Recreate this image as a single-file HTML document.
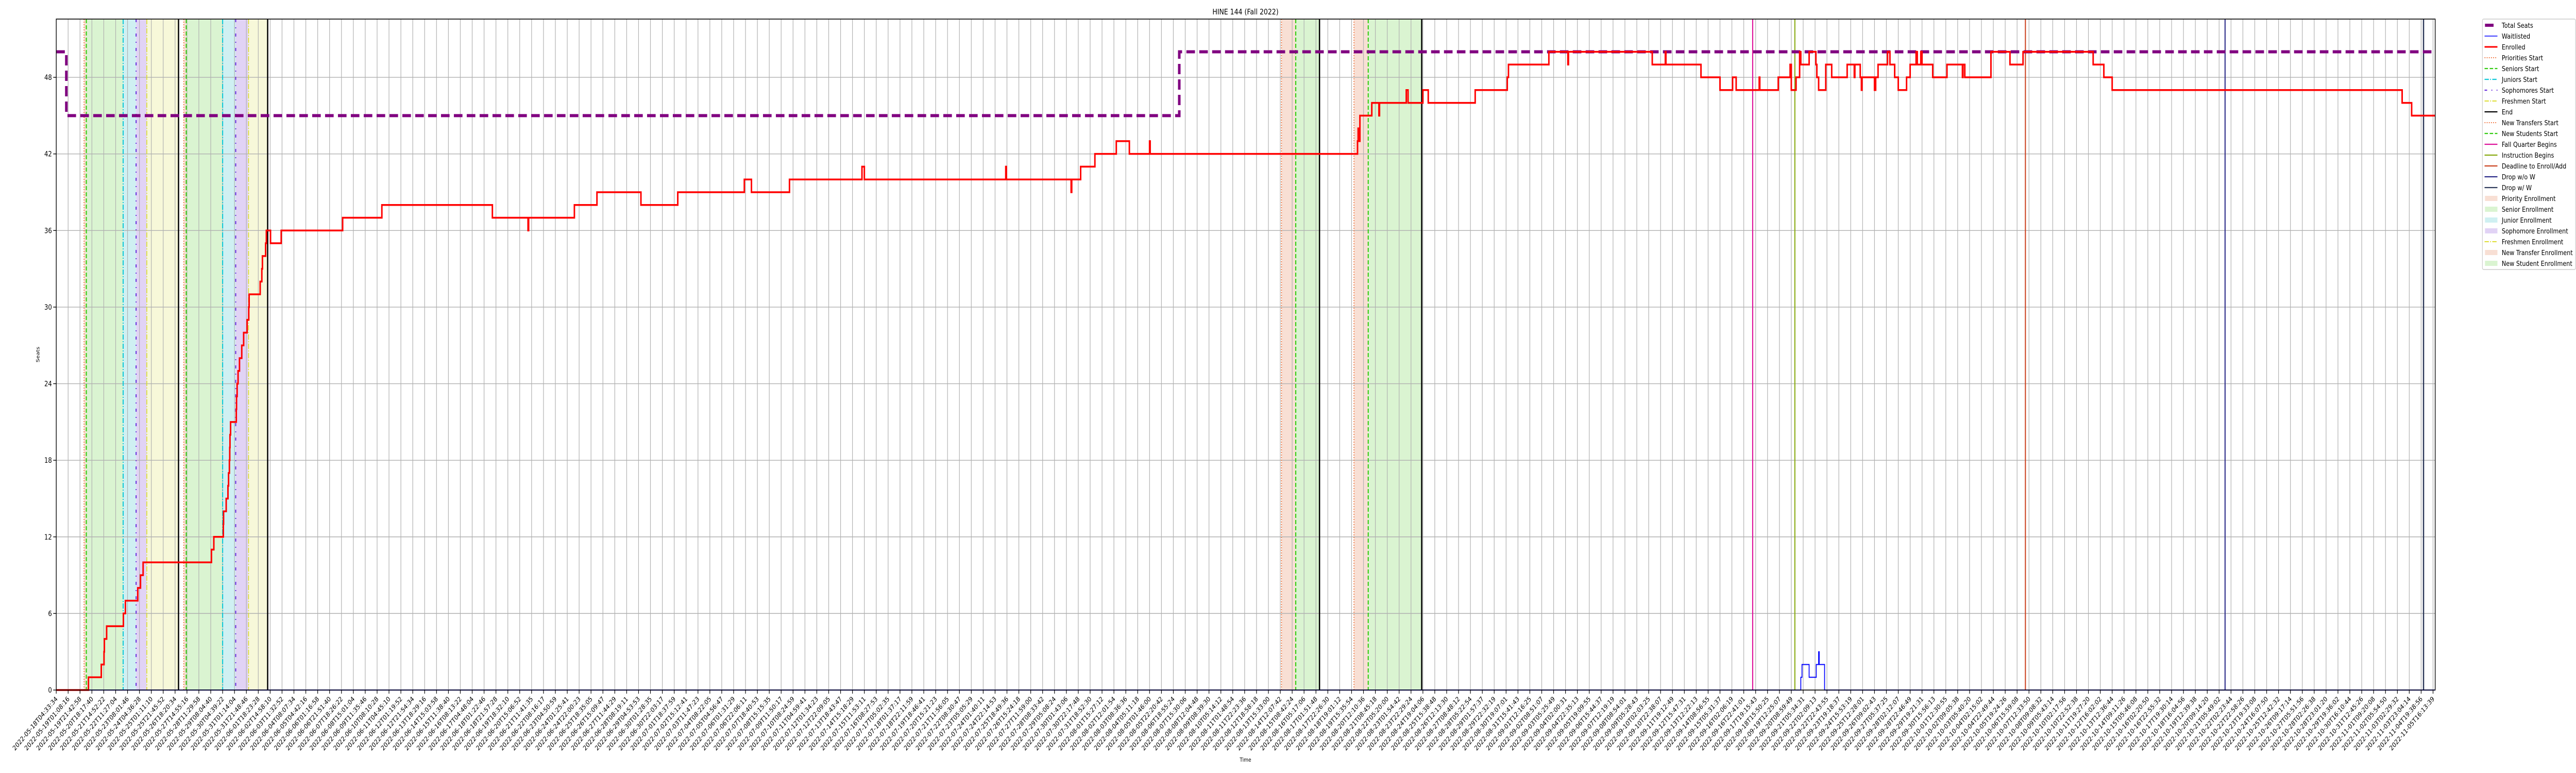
<!DOCTYPE html>
<html><head><meta charset="utf-8"><style>
html,body{margin:0;padding:0;background:#fff;width:100%;height:100%;overflow:hidden;}
svg{display:block;font-family:"DejaVu Sans","Liberation Sans",sans-serif;overflow:hidden;width:100vw;height:100vh;}
</style></head><body>
<svg id="chart" viewBox="0 0 6000 1500" preserveAspectRatio="none" xmlns="http://www.w3.org/2000/svg">
<defs><clipPath id="pageclip"><rect x="0" y="0" width="6000" height="1500"/></clipPath></defs>
<g clip-path="url(#pageclip)">
<rect x="0" y="0" width="6000" height="1500" fill="#fff"/>
<g id="spans"></g>
<g id="grid"></g>
<g id="vlines"></g>
<g id="series"></g>
<g id="axes"></g>
<text x="2901" y="28" font-size="15" text-anchor="middle">HINE 144 (Fall 2022)</text>
<text x="2901" y="1478" font-size="11" text-anchor="middle">Time</text>
<text x="0" y="0" font-size="11" text-anchor="middle" transform="translate(92,688) rotate(-90)">Seats</text>
<g id="legend"></g>
</g>
</svg>
<script>
// ---- data (x in tick-index units, y in seats) ----
const enrolledT = [0,2.71,3.79,4.02,4.05,4.24,5.65,5.82,6.86,7.09,7.31,13.06,13.26,14.06,14.08,14.30,14.45,14.50,14.57,14.60,14.62,14.67,15.15,15.17,15.22,15.30,15.42,15.61,15.77,16.06,16.20,16.23,17.16,17.30,17.35,17.62,17.68,18.03,18.93,24.1,27.4,36.7,39.7,39.75,43.6,45.5,49.2,52.3,57.9,58.5,61.7,67.8,68.0,79.9,79.95,85.4,85.45,86.2,87.4,89.2,90.3,92.0,92.05,109.5,109.55,109.65,109.7,110.7,111.3,111.35,113.6,113.75,115.0,115.45,119.4,122.1,122.2,125.6,127.2,127.25,134.3,135.4,135.45,138.4,140.0,141.06,141.36,143.3,143.35,144.9,145.9,146.0,146.4,146.7,146.8,147.5,148.07,148.15,148.3,148.9,149.4,150.7,151.3,151.35,151.8,151.9,151.95,153.0,153.1,153.3,154.1,154.3,154.7,155.0,155.7,156.0,156.5,156.6,156.9,157.0,157.9,159.1,160.4,160.45,160.6,162.8,164.4,165.5,171.4,172.3,173.0,197.4,198.2];
const enrolledV = [0,1,2,3,4,5,6,7,8,9,10,11,12,13,14,15,16,17,18,19,20,21,22,23,24,25,26,27,28,29,30,31,32,33,34,35,36,35,36,37,38,37,36,37,38,39,38,39,40,39,40,41,40,41,40,39,40,41,42,43,42,43,42,43,44,43,45,46,45,46,47,46,47,46,47,48,49,50,49,50,49,50,49,48,47,48,47,48,47,48,49,47,48,50,49,50,49,48,47,49,48,49,48,49,48,47,48,47,48,49,50,49,48,47,48,49,50,49,50,49,48,49,48,49,48,50,49,50,49,48,47,46,45];
const waitT = [0,146.8,146.9,147.5,148.1,148.3,148.35,148.8];
const waitV = [0,1,2,1,2,3,2,0];
const seatsT = [0,0.85,94.5];
const seatsV = [50,45,50];
const xEnd = 200.18;
const yTicks = [0,6,12,18,24,30,36,42,48];
const spanStarts = [2.34,2.53,5.63,6.72,7.62,10.73,10.94,14.0,15.1,16.18,103.1,104.3,109.2,110.4];
const spanEnds   = [2.53,5.63,6.72,7.62,10.29,10.94,14.0,15.1,16.18,17.79,104.3,106.3,110.4,114.9];
const spanKinds  = ["priority","senior","junior","sophomore","freshmen","priority","senior","junior","sophomore","freshmen","transfer","newstudent","transfer","newstudent"];
const eventT = [2.34,2.53,5.63,6.72,7.62,10.29,10.73,10.94,14.0,15.1,16.18,17.79,103.1,104.3,106.3,109.2,110.4,114.9,142.75,146.3,165.7,182.5,199.2];
const eventKind = ["priorities","seniors","juniors","sophomores","freshmen","end","priorities","seniors","juniors","sophomores","freshmen","end","transfers","newstudents","end","transfers","newstudents","end","fall","instruction","deadline","dropwo","dropw"];
const tickStart = Date.UTC(2022,4,18,4,33,34);
const tickEnd = Date.UTC(2022,10,5,16,13,39);
const nTicks = 201;
const tickLabels = [];
for (let i=0;i<nTicks;i++){
  const d = new Date(tickStart + (tickEnd-tickStart)*i/(nTicks-1));
  tickLabels.push(d.toISOString().slice(0,19));
}

const L=131, R=5672, T=37, B=1339, SP=27.68;
const X = t => L + t*SP;
const Y = v => B - v*24.77;
const NS="http://www.w3.org/2000/svg";
function mk(tag, parent, attrs){const e=document.createElementNS(NS,tag);for(const k in attrs)e.setAttribute(k,attrs[k]);parent.appendChild(e);return e;}

const spanFill={priority:"#f8dfd4",senior:"#daf4d1",junior:"#cff0f2",sophomore:"#e1d3f5",freshmen:"#f7f8d9",transfer:"#f8dfd4",newstudent:"#daf4d1"};
const spansG=document.getElementById('spans');
for(let i=0;i<spanStarts.length;i++){
  const r=mk('rect',spansG,{x:X(spanStarts[i]),y:T,width:X(spanEnds[i])-X(spanStarts[i]),height:B-T,fill:spanFill[spanKinds[i]]});
  
  
}
const gridG=document.getElementById('grid');
for(let i=0;i<nTicks;i++){
  const l=mk('line',gridG,{x1:X(i),x2:X(i),y1:T,y2:B,stroke:"#b0b0b0","stroke-width":1.4});
  
  
}
for(const v of yTicks){
  const l=mk('line',gridG,{x1:L,x2:R,y1:Y(v),y2:Y(v),stroke:"#b0b0b0","stroke-width":1.4});
  
  
}
const evStyle={
 priorities:{c:"#f07038",w:2,d:"2,3"},
 seniors:{c:"#33cc11",w:2.5,d:"8,4"},
 juniors:{c:"#11c8d8",w:2.5,d:"10,3,2,3"},
 sophomores:{c:"#6a30dd",w:2.5,d:"6,10,2,10"},
 freshmen:{c:"#dddd33",w:2,d:"10,3,2,3"},
 end:{c:"#000",w:3,d:""},
 transfers:{c:"#f07038",w:2,d:"2,3"},
 newstudents:{c:"#33cc11",w:2.5,d:"8,4"},
 fall:{c:"#dd1199",w:2.5,d:""},
 instruction:{c:"#88aa11",w:2.5,d:""},
 deadline:{c:"#cc4422",w:2.5,d:""},
 dropwo:{c:"#2a2a88",w:2.5,d:""},
 dropw:{c:"#2e3a5a",w:3,d:""}
};
const vG=document.getElementById('vlines');
for(let i=0;i<eventT.length;i++){
  const s=evStyle[eventKind[i]];
  const l=mk('line',vG,{x1:X(eventT[i]),x2:X(eventT[i]),y1:T,y2:B,stroke:s.c,"stroke-width":s.w});
  if(s.d) l.setAttribute('stroke-dasharray',s.d);
  
  
}
function stepPath(ts,vs){
  let d="M"+X(ts[0])+","+Y(vs[0]);
  for(let i=1;i<ts.length;i++){d+=" H"+X(ts[i])+" V"+Y(vs[i]);}
  d+=" H"+X(xEnd);
  return d;
}
const sG=document.getElementById('series');
const seats=mk('path',sG,{d:stepPath(seatsT,seatsV),fill:"none",stroke:"#800080","stroke-width":6,"stroke-dasharray":"20,10"});


const wl=mk('path',sG,{d:stepPath(waitT,waitV),fill:"none",stroke:"#0000ff","stroke-width":2});


const en=mk('path',sG,{d:stepPath(enrolledT,enrolledV),fill:"none",stroke:"#ff0000","stroke-width":3.5});



const aG=document.getElementById('axes');
const frame=mk('rect',aG,{x:L,y:T,width:R-L,height:B-T,fill:"none",stroke:"#000","stroke-width":1.6});


for(const v of yTicks){
  mk('line',aG,{x1:L-7,x2:L,y1:Y(v),y2:Y(v),stroke:"#000","stroke-width":1.4});
  const t=mk('text',aG,{x:L-10,y:Y(v)+5,"font-size":14,"text-anchor":"end"});
  t.textContent=v;
  
  
}
for(let i=0;i<nTicks;i++){
  const x=X(i);
  mk('line',aG,{x1:x,x2:x,y1:B,y2:B+7,stroke:"#000","stroke-width":1.4});
  const t=mk('text',aG,{x:0,y:0,"font-size":13,"text-anchor":"end",transform:"translate("+(x+4)+","+(B+18)+") rotate(-45)"});
  t.textContent=tickLabels[i];
  
  
}

const legNames=["Total Seats","Waitlisted","Enrolled","Priorities Start","Seniors Start","Juniors Start","Sophomores Start","Freshmen Start","End","New Transfers Start","New Students Start","Fall Quarter Begins","Instruction Begins","Deadline to Enroll/Add","Drop w/o W","Drop w/ W","Priority Enrollment","Senior Enrollment","Junior Enrollment","Sophomore Enrollment","Freshmen Enrollment","New Transfer Enrollment","New Student Enrollment"];
const legKeys=["seats","wait","enr","priorities","seniors","juniors","sophomores","freshmen","end","transfers","newstudents","fall","instruction","deadline","dropwo","dropw","priority","senior","junior","sophomore","freshmen","transfer","newstudent"];
const lg=document.getElementById('legend');
mk('rect',lg,{x:5782,y:37,width:217,height:486,fill:"#fff",stroke:"#ccc","stroke-width":1.4,rx:3});
for(let i=0;i<legNames.length;i++){
  const y=49+i*21, k=legKeys[i];
  const it=mk('g',lg,{});
  
  
  if(k==="seats") mk('line',it,{x1:5788,x2:5808,y1:y,y2:y,stroke:"#800080","stroke-width":6});
  else if(k==="wait") mk('line',it,{x1:5787,x2:5817,y1:y,y2:y,stroke:"#0000ff","stroke-width":1.6});
  else if(k==="enr") mk('line',it,{x1:5787,x2:5817,y1:y,y2:y,stroke:"#ff0000","stroke-width":3});
  else if(evStyle[k]){const s=evStyle[k];const l=mk('line',it,{x1:5787,x2:5817,y1:y,y2:y,stroke:s.c,"stroke-width":Math.min(s.w,2.2)});if(s.d)l.setAttribute('stroke-dasharray',s.d);}
  else mk('rect',it,{x:5788,y:y-5,width:29,height:10,fill:spanFill[k]});
  const t=mk('text',it,{x:5827,y:y+5,"font-size":13.5});
  t.textContent=legNames[i];
}
</script>
</body></html>
